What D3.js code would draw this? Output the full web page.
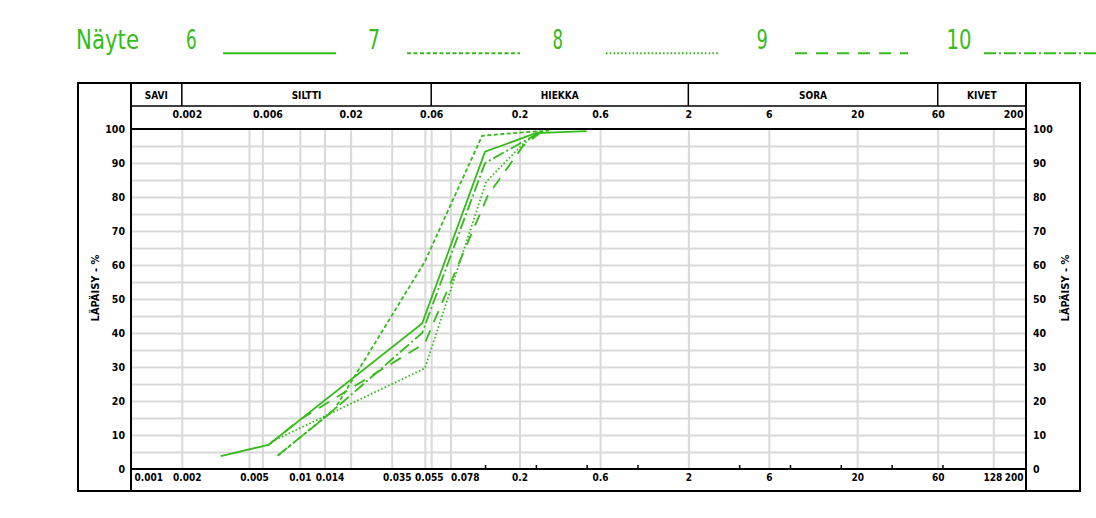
<!DOCTYPE html>
<html>
<head>
<meta charset="utf-8">
<script src="https://cdn.jsdelivr.net/npm/d3@7"></script>
<style>
  html, body { margin: 0; padding: 0; background: #fff; }
  svg { display: block; }
  .lbl { font-family: "DejaVu Sans Condensed", "Liberation Sans Narrow", "Liberation Sans", sans-serif; font-weight: bold; fill: #000; }
  .leg { font-family: "DejaVu Sans Condensed", "Liberation Sans Narrow", "Liberation Sans", sans-serif; fill: #35bb1a; }
</style>
</head>
<body>
<svg id="chart" width="1096" height="518"></svg>
<script>
// Soil fractions and their grain-size limits (mm)
const categories = ["SAVI", "SILTTI", "HIEKKA", "SORA", "KIVET"];
const categoryLimits = [0.001, 0.002, 0.06, 2, 60, 200];

// Grain-size labels along the top and bottom edges
const topTickValues = [0.002, 0.006, 0.02, 0.06, 0.2, 0.6, 2, 6, 20, 60, 200];
const topTickLabels = ["0.002", "0.006", "0.02", "0.06", "0.2", "0.6", "2", "6", "20", "60", "200"];
const bottomTickValues = [0.001, 0.002, 0.005, 0.01, 0.014, 0.035, 0.055, 0.078, 0.2, 0.6, 2, 6, 20, 60, 128, 200];
const bottomTickLabels = ["0.001", "0.002", "0.005", "0.01", "0.014", "0.035", "0.055", "0.078", "0.2", "0.6", "2", "6", "20", "60", "128", "200"];
const gridSizes = [0.002, 0.005, 0.006, 0.01, 0.014, 0.02, 0.035, 0.055, 0.06, 0.078, 0.2, 0.6, 2, 6, 20, 60, 128];
const sieveSizes = [0.125, 0.25, 0.5, 1, 4, 8, 16, 32, 64];

// Passing percentage ticks and grid
const percentTicks = [0, 10, 20, 30, 40, 50, 60, 70, 80, 90, 100];
const percentGrid = [5, 10, 15, 20, 25, 30, 35, 40, 45, 50, 55, 60, 65, 70, 75, 80, 85, 90, 95];

// Samples: grain size (mm) and passing (%)
const samples = ["6", "7", "8", "9", "10"];
const size6 = [0.0034, 0.0065, 0.053, 0.125, 0.25, 0.5];
const pass6 = [3.8, 7.1, 42.8, 93.3, 98.8, 99.4];
const size7 = [0.0074, 0.016, 0.055, 0.12, 0.22, 0.3];
const pass7 = [3.9, 17.5, 61, 98, 99.1, 99.5];
const size8 = [0.0068, 0.014, 0.055, 0.127, 0.207, 0.26];
const pass8 = [8, 15.5, 29.6, 84.5, 95.3, 99.2];
const size9 = [0.0065, 0.01, 0.055, 0.13, 0.21, 0.27];
const pass9 = [7, 14.5, 37, 80.5, 95, 99.2];
const size10 = [0.0074, 0.014, 0.053, 0.125, 0.22, 0.27];
const pass10 = [4, 15, 40, 90, 96.8, 99.3];

const sampleSizes = [size6, size7, size8, size9, size10];
const samplePass = [pass6, pass7, pass8, pass9, pass10];

// Line patterns per sample
const dashes = [null, "4,2.5", "1.6,2.2", "12,9", "12,3,2,3"];
const green = "#35bb1a";

const svg = d3.select("#chart");

const x = d3.scaleLog().domain([0.001, 200]).range([131, 1026]);
const y = d3.scaleLinear().domain([0, 100]).range([469, 129]);

// ---- legend row ----
const legendNumX = [186, 368, 552.5, 756.5, 946.5];
const legendNumW = [10.7, 12, 10.5, 11.3, 25];
const legendLineX = [223, 407, 606, 795, 984];
const legendLineLen = 113;

svg.append("text").attr("class", "leg")
  .attr("x", 76).attr("y", 49)
  .attr("font-size", 27)
  .attr("textLength", 63).attr("lengthAdjust", "spacingAndGlyphs")
  .text("Näyte");

samples.forEach((s, i) => {
  svg.append("text").attr("class", "leg")
    .attr("x", legendNumX[i]).attr("y", 49)
    .attr("font-size", 27)
    .attr("textLength", legendNumW[i]).attr("lengthAdjust", "spacingAndGlyphs")
    .text(s);
  svg.append("line")
    .attr("x1", legendLineX[i]).attr("x2", legendLineX[i] + legendLineLen)
    .attr("y1", 53.3).attr("y2", 53.3)
    .attr("stroke", green).attr("stroke-width", 2)
    .attr("stroke-dasharray", dashes[i]);
});

// ---- grid ----
const vGrid = svg.append("g")
  .attr("transform", "translate(0,469)")
  .call(d3.axisTop(x).tickValues(gridSizes).tickSize(340).tickFormat(""));
vGrid.select(".domain").remove();
vGrid.selectAll("line").attr("stroke", "#d9d9d9").attr("stroke-width", 2);

const hGrid = svg.append("g")
  .attr("transform", "translate(131,0)")
  .call(d3.axisRight(y).tickValues(percentGrid).tickSize(1026 - 131).tickFormat(""));
hGrid.select(".domain").remove();
hGrid.selectAll("line").attr("stroke", "#d9d9d9").attr("stroke-width", 2);

// ---- frame ----
const frame = svg.append("g").attr("fill", "none").attr("stroke", "#000");
frame.append("rect").attr("x", 78).attr("y", 83).attr("width", 1080 - 78).attr("height", 491 - 83)
  .attr("stroke-width", 2);
frame.append("line").attr("x1", x(0.001)).attr("x2", x(0.001)).attr("y1", 83).attr("y2", 491).attr("stroke-width", 2);
frame.append("line").attr("x1", x(200)).attr("x2", x(200)).attr("y1", 83).attr("y2", 491).attr("stroke-width", 2);
frame.append("line").attr("x1", x(0.001)).attr("x2", x(200)).attr("y1", 106).attr("y2", 106).attr("stroke-width", 1.5);
frame.append("line").attr("x1", x(0.001)).attr("x2", x(200)).attr("y1", y(100)).attr("y2", y(100)).attr("stroke-width", 2);
frame.append("line").attr("x1", x(0.001)).attr("x2", x(200)).attr("y1", y(0)).attr("y2", y(0)).attr("stroke-width", 2);
categoryLimits.slice(1, -1).forEach(v => {
  frame.append("line").attr("x1", x(v)).attr("x2", x(v)).attr("y1", 83).attr("y2", 106).attr("stroke-width", 1.5);
});

// fraction names
categories.forEach((c, i) => {
  const cx = (x(categoryLimits[i]) + x(categoryLimits[i + 1])) / 2;
  svg.append("text").attr("class", "lbl")
    .attr("x", cx).attr("y", 99).attr("text-anchor", "middle")
    .attr("font-size", 10).text(c);
});

// ---- axes ----
function styleAxis(g, size) {
  g.select(".domain").remove();
  g.selectAll(".tick line").remove();
  g.selectAll("text").attr("class", "lbl").attr("font-size", size)
    .attr("font-family", null).attr("fill", null);
}

const topAxis = svg.append("g")
  .attr("transform", `translate(0,${y(100)})`)
  .call(d3.axisTop(x).tickValues(topTickValues).tickSize(0).tickPadding(11)
    .tickFormat((d, i) => topTickLabels[i]));
styleAxis(topAxis, 10.5);
topAxis.selectAll("text")
  .attr("text-anchor", (d, i) => i === topTickValues.length - 1 ? "end" : "middle")
  .attr("dx", (d, i) => i === topTickValues.length - 1 ? -3 : (i < 2 ? 5 : 0));

// per-label nudges keep neighbouring bottom labels apart
const bottomShift = [3, 5, 5, 0, 5, 5, 4, 0, 0, 0, 0, 0, 0, 0, -1, -3];
const bottomAxis = svg.append("g")
  .attr("transform", `translate(0,${y(0)})`)
  .call(d3.axisBottom(x).tickValues(bottomTickValues).tickSize(0).tickPadding(5)
    .tickFormat((d, i) => bottomTickLabels[i]));
styleAxis(bottomAxis, 10);
const lastB = bottomTickValues.length - 1;
bottomAxis.selectAll("text")
  .attr("text-anchor", (d, i) => i === 0 || i === 7 ? "start" : (i === lastB ? "end" : "middle"))
  .attr("dx", (d, i) => bottomShift[i]);

// sieve tick marks on the bottom edge
const sieveAxis = svg.append("g")
  .attr("transform", `translate(0,${y(0)})`)
  .call(d3.axisTop(x).tickValues(sieveSizes).tickSize(4).tickFormat(""));
sieveAxis.select(".domain").remove();
sieveAxis.selectAll("line").attr("stroke", "#000").attr("stroke-width", 1.5);

const leftAxis = svg.append("g")
  .attr("transform", `translate(${x(0.001)},0)`)
  .call(d3.axisLeft(y).tickValues(percentTicks).tickSize(0).tickPadding(6));
styleAxis(leftAxis, 10.5);

const rightAxis = svg.append("g")
  .attr("transform", `translate(${x(200)},0)`)
  .call(d3.axisRight(y).tickValues(percentTicks).tickSize(0).tickPadding(7));
styleAxis(rightAxis, 10.5);

[95.5, 1065].forEach(px => {
  svg.append("text").attr("class", "lbl")
    .attr("transform", `translate(${px},288) rotate(-90)`)
    .attr("text-anchor", "middle").attr("dy", "0.35em")
    .attr("font-size", 11).text("LÄPÄISY - %");
});

// ---- grading curves ----
const line = d3.line().x(d => x(d[0])).y(d => y(d[1]));
samples.forEach((s, i) => {
  const pts = sampleSizes[i].map((v, j) => [v, samplePass[i][j]]);
  svg.append("path")
    .attr("d", line(pts))
    .attr("fill", "none")
    .attr("stroke", green)
    .attr("stroke-width", 1.8)
    .attr("stroke-dasharray", dashes[i]);
});
</script>
</body>
</html>
